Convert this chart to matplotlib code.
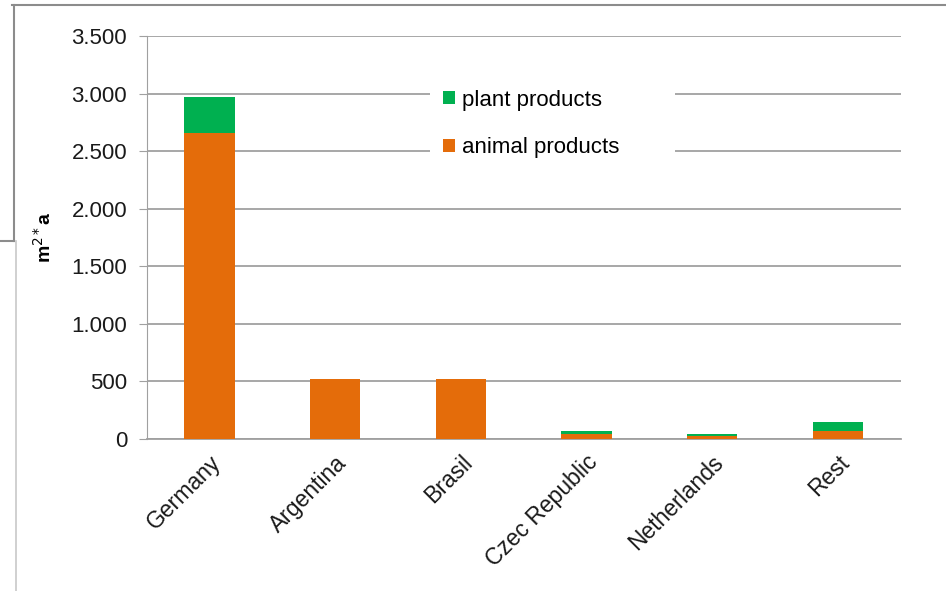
import numpy as np
import matplotlib.pyplot as plt
from matplotlib.lines import Line2D

plt.rcParams['font.family'] = ['Liberation Sans', 'DejaVu Sans']

countries = ['Germany', 'Argentina', 'Brasil', 'Czec Republic', 'Netherlands', 'Rest']
animal = [2660, 515, 515, 35, 20, 67]
plant = [310, 0, 0, 29, 17, 78]

orange = '#E46C0A'
green = '#00B050'
grid_c = '#A0A0A0'

fig = plt.figure(figsize=(9.46, 5.91), dpi=100)
ax = fig.add_axes([0.155, 0.258, 0.797, 0.681])

x = np.arange(len(countries))
ax.bar(x, animal, width=0.4, color=orange, label='animal products', zorder=3)
ax.bar(x, plant, width=0.4, bottom=animal, color=green, label='plant products', zorder=3)

ax.set_xlim(-0.5, len(countries) - 0.5)
ax.set_ylim(0, 3500)
ax.set_yticks(np.arange(0, 3501, 500))
ax.set_yticklabels([f'{v:,}'.replace(',', '.') for v in range(0, 3501, 500)])
ax.yaxis.grid(True, color=grid_c, linewidth=1.3, zorder=0)
ax.set_axisbelow(True)

for s in ['top', 'right']:
    ax.spines[s].set_visible(False)
ax.spines['left'].set_color(grid_c)
ax.spines['bottom'].set_color(grid_c)
ax.spines['bottom'].set_linewidth(1.3)
ax.tick_params(axis='y', length=6, color=grid_c, labelsize=16, labelcolor='#1a1a1a', pad=8)
ax.tick_params(axis='x', length=0, labelsize=16.5, labelcolor='#1a1a1a', pad=9)

ax.set_xticks(x)
ax.set_xticklabels(countries, rotation=45, ha='right', rotation_mode='anchor')

ax.set_ylabel('m$^{2*}$a', fontsize=14, fontweight='bold', labelpad=12)

h, l = ax.get_legend_handles_labels()
leg = ax.legend(h[::-1], l[::-1], loc='upper left', bbox_to_anchor=(0.376, 0.0, 0.325, 0.9),
                mode='expand', frameon=True, fancybox=False, edgecolor='none',
                facecolor='white', framealpha=1, fontsize=16, handlelength=0.5,
                handleheight=0.5, handletextpad=0.35, labelspacing=1.2, borderpad=0.6,
                borderaxespad=0)

# outer frame pieces from the screenshot
fig.add_artist(Line2D([12/946, 1], [1 - 5/591, 1 - 5/591], color='#8c8c8c', lw=1.5))
fig.add_artist(Line2D([14/946, 14/946], [1 - 5/591, 1 - 241/591], color='#8c8c8c', lw=1.5))
fig.add_artist(Line2D([0, 14/946], [1 - 241/591, 1 - 241/591], color='#8c8c8c', lw=1.5))
fig.add_artist(Line2D([16/946, 16/946], [1 - 241/591, 0], color='#c8c8c8', lw=1.2))

fig.savefig('out.png', dpi=100)
